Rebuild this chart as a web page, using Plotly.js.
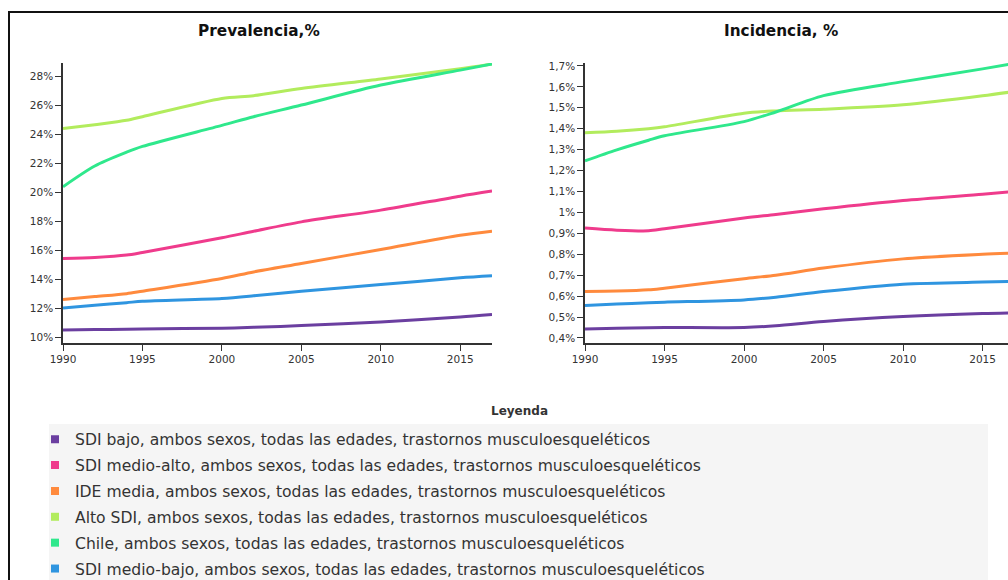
<!DOCTYPE html>
<html>
<head>
<meta charset="utf-8">
<script src="https://cdn.plot.ly/plotly-3.0.1.min.js"></script>
<style>
  html, body { margin: 0; padding: 0; background: #fff; overflow: hidden; }
  #wrap { position: relative; width: 1008px; height: 580px; }
  #frame { position: absolute; left: 8px; top: 11px; width: 1010px; height: 580px;
           border-left: 2px solid #111; border-top: 2px solid #111; pointer-events: none; z-index: 5; }
  #chart { position: absolute; left: 0; top: 0; width: 1008px; height: 580px; }
</style>
</head>
<body>
<div id="wrap">
  <div id="chart"></div>
  <div id="frame"></div>
</div>
<script>
// ---- Data ----
const years = [1990, 1992, 1994, 1995, 2000, 2002, 2005, 2010, 2015, 2017];

const seriesNames = [
  "SDI bajo, ambos sexos, todas las edades, trastornos musculoesqueléticos",
  "SDI medio-alto, ambos sexos, todas las edades, trastornos musculoesqueléticos",
  "IDE media, ambos sexos, todas las edades, trastornos musculoesqueléticos",
  "Alto SDI, ambos sexos, todas las edades, trastornos musculoesqueléticos",
  "Chile, ambos sexos, todas las edades, trastornos musculoesqueléticos",
  "SDI medio-bajo, ambos sexos, todas las edades, trastornos musculoesqueléticos"
];
const seriesColors = ["#6b3fa0", "#ef3b8c", "#ff8a3d", "#b2ec5d", "#2fe88c", "#2f95e0"];

// Prevalencia (%)
const prevSdiBajo      = [10.50, 10.53, 10.55, 10.57, 10.62, 10.68, 10.80, 11.05, 11.40, 11.57];
const prevSdiMedioAlto = [15.43, 15.50, 15.66, 15.84, 16.85, 17.30, 17.95, 18.76, 19.72, 20.07];
const prevIdeMedia     = [12.60, 12.80, 13.00, 13.17, 14.05, 14.50, 15.08, 16.05, 17.03, 17.31];
const prevAltoSdi      = [24.38, 24.65, 24.95, 25.20, 26.46, 26.65, 27.15, 27.80, 28.50, 28.83];
const prevChile        = [20.37, 21.80, 22.75, 23.15, 24.60, 25.20, 26.00, 27.38, 28.41, 28.83];
const prevSdiMedioBajo = [12.02, 12.20, 12.38, 12.48, 12.67, 12.85, 13.17, 13.63, 14.09, 14.23];

// Incidencia (%)
const incSdiBajo      = [0.443, 0.447, 0.449, 0.450, 0.450, 0.458, 0.479, 0.503, 0.517, 0.520];
const incSdiMedioAlto = [0.925, 0.915, 0.912, 0.922, 0.973, 0.990, 1.017, 1.057, 1.087, 1.100];
const incIdeMedia     = [0.622, 0.624, 0.630, 0.638, 0.683, 0.700, 0.734, 0.778, 0.800, 0.806];
const incAltoSdi      = [1.381, 1.388, 1.400, 1.409, 1.474, 1.485, 1.493, 1.514, 1.557, 1.578];
const incChile        = [1.246, 1.299, 1.345, 1.366, 1.434, 1.480, 1.558, 1.625, 1.686, 1.712];
const incSdiMedioBajo = [0.555, 0.562, 0.568, 0.571, 0.582, 0.595, 0.622, 0.657, 0.667, 0.670];

const prevSeries = [prevSdiBajo, prevSdiMedioAlto, prevIdeMedia, prevAltoSdi, prevChile, prevSdiMedioBajo];
const incSeries  = [incSdiBajo, incSdiMedioAlto, incIdeMedia, incAltoSdi, incChile, incSdiMedioBajo];

const chartTitles = ["Prevalencia,%", "Incidencia, %"];
const legendTitle = "Leyenda";

// ---- Layout helpers (pixel -> paper, margins are zero) ----
const W = 1008, H = 580;
const px = v => v / W;
const py = v => 1 - v / H;

const traces = [];
seriesNames.forEach((name, i) => {
  traces.push({
    x: years, y: prevSeries[i], xaxis: "x", yaxis: "y",
    type: "scatter", mode: "lines", line: {color: seriesColors[i], width: 3, shape: "spline", smoothing: 0.8},
    showlegend: false, hoverinfo: "x+y", name: name
  });
  traces.push({
    x: years, y: incSeries[i], xaxis: "x2", yaxis: "y2",
    type: "scatter", mode: "lines", line: {color: seriesColors[i], width: 3, shape: "spline", smoothing: 0.8},
    showlegend: false, hoverinfo: "x+y", name: name
  });
});
// legend entries (square swatches)
seriesNames.forEach((name, i) => {
  traces.push({
    x: [null], y: [null], xaxis: "x", yaxis: "y", type: "scatter", mode: "markers",
    marker: {symbol: "square", size: 8, color: seriesColors[i]},
    name: name, legendgroup: "g" + i, showlegend: true
  });
});

const axisFont = {family: "DejaVu Sans, Verdana, sans-serif", size: 10.5, color: "#333"};
const commonX = {
  showgrid: false, zeroline: false, showline: true, linecolor: "#333", linewidth: 1.5,
  ticks: "outside", ticklen: 6, tickwidth: 1.3, tickcolor: "#333",
  tickvals: [1990, 1995, 2000, 2005, 2010, 2015], tickfont: axisFont, fixedrange: true
};
const commonY = {
  showgrid: false, zeroline: false, showline: true, linecolor: "#333", linewidth: 1.5,
  ticks: "outside", ticklen: 6, tickwidth: 1.3, tickcolor: "#333",
  ticksuffix: "%", tickfont: axisFont, fixedrange: true
};

const layout = {
  width: W, height: H,
  margin: {l: 0, r: 0, t: 0, b: 0, pad: 0, autoexpand: false},
  paper_bgcolor: "#fff", plot_bgcolor: "rgba(0,0,0,0)",
  separators: ",.",
  showlegend: true,
  xaxis: Object.assign({}, commonX, {domain: [px(63), px(492)], range: [1990, 2017], anchor: "y"}),
  yaxis: Object.assign({}, commonY, {domain: [py(343), py(63)], range: [9.6, 28.9], dtick: 2, tick0: 0, anchor: "x"}),
  xaxis2: Object.assign({}, commonX, {domain: [px(585), 1], range: [1990, 2016.6], anchor: "y2"}),
  yaxis2: Object.assign({}, commonY, {domain: [py(343), py(63)], range: [0.376, 1.714], dtick: 0.1, tick0: 0, anchor: "x2"}),
  legend: {
    x: px(35), y: py(422.5), xanchor: "left", yanchor: "top",
    bgcolor: "rgba(0,0,0,0)", borderwidth: 0,
    font: {family: "DejaVu Sans, Verdana, sans-serif", size: 15.6, color: "#333"},
    traceorder: "grouped", tracegroupgap: 2.6, itemclick: false, itemdoubleclick: false
  },
  shapes: [
    {type: "rect", xref: "paper", yref: "paper", x0: px(49), x1: px(988), y0: 0, y1: py(424),
     fillcolor: "#f5f5f5", line: {width: 0}, layer: "below"}
  ],
  annotations: [
    {text: "<b>" + chartTitles[0] + "</b>", xref: "paper", yref: "paper", x: px(259), y: py(31),
     xanchor: "center", yanchor: "middle", showarrow: false,
     font: {family: "DejaVu Sans, Verdana, sans-serif", size: 15.3, color: "#111"}},
    {text: "<b>" + chartTitles[1] + "</b>", xref: "paper", yref: "paper", x: px(781), y: py(31),
     xanchor: "center", yanchor: "middle", showarrow: false,
     font: {family: "DejaVu Sans, Verdana, sans-serif", size: 15.3, color: "#111"}},
    {text: "<b>" + legendTitle + "</b>", xref: "paper", yref: "paper", x: px(519), y: py(411),
     xanchor: "center", yanchor: "middle", showarrow: false,
     font: {family: "DejaVu Sans, Verdana, sans-serif", size: 12, color: "#333"}}
  ]
};

Plotly.newPlot("chart", traces, layout, {displayModeBar: false, staticPlot: false, responsive: false});
</script>
</body>
</html>
